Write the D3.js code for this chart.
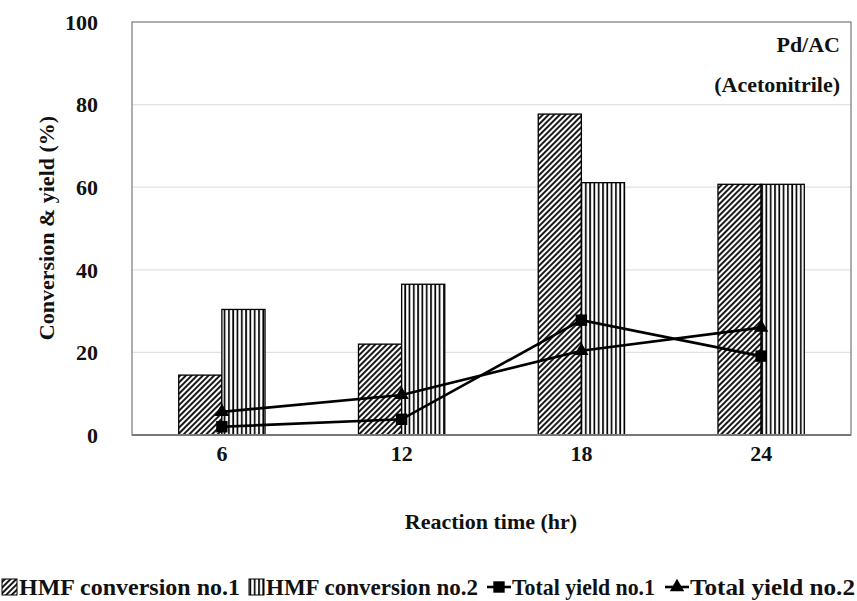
<!DOCTYPE html>
<html>
<head>
<meta charset="utf-8">
<script src="https://cdn.jsdelivr.net/npm/d3@7"></script>
<style>
  html, body { margin: 0; padding: 0; background: #fff; }
  svg { display: block; }
  text { font-family: "Liberation Serif", "Times New Roman", serif; font-weight: bold; fill: #111; }
</style>
</head>
<body>
<svg id="chart" width="857" height="601"></svg>
<script>
// Reaction time categories (hr)
const times = ["6", "12", "18", "24"];
// HMF conversion (%)
const conversion1 = [14.5, 22.0, 77.7, 60.7];
const conversion2 = [30.4, 36.5, 61.1, 60.7];
// Total yield (%)
const yield1 = [2.0, 3.8, 27.8, 19.1];
const yield2 = [5.6, 9.7, 20.4, 26.0];
const yTicks = [0, 20, 40, 60, 80, 100];

const svg = d3.select("#chart");
const margin = { left: 132, right: 6, top: 22, bottom: 166 };
const W = 857, H = 601;
const x0 = margin.left, x1 = W - margin.right;
const yTop = margin.top, yBot = H - margin.bottom;

const x = d3.scaleBand().domain(times).range([x0, x1]).padding(0);
const y = d3.scaleLinear().domain([0, 100]).range([yBot, yTop]);
const barW = x.bandwidth() * 0.24;

// Fill patterns
const defs = svg.append("defs");
const diag = defs.append("pattern")
  .attr("id", "diag").attr("patternUnits", "userSpaceOnUse")
  .attr("width", 4).attr("height", 4)
  .attr("patternTransform", "rotate(45)");
diag.append("rect").attr("width", 4).attr("height", 4).attr("fill", "#fff");
diag.append("line").attr("x1", 1).attr("y1", 0).attr("x2", 1).attr("y2", 4)
  .attr("stroke", "#000").attr("stroke-width", 1.8);

const vert = defs.append("pattern")
  .attr("id", "vert").attr("patternUnits", "userSpaceOnUse")
  .attr("width", 4.3).attr("height", 10);
vert.append("rect").attr("width", 4.3).attr("height", 10).attr("fill", "#fff");
vert.append("line").attr("x1", 1).attr("y1", 0).attr("x2", 1).attr("y2", 10)
  .attr("stroke", "#000").attr("stroke-width", 1.7);

// Gridlines
svg.append("g").selectAll("line")
  .data(yTicks.filter(d => d > 0 && d < 100))
  .join("line")
  .attr("x1", x0).attr("x2", x1)
  .attr("y1", d => y(d)).attr("y2", d => y(d))
  .attr("stroke", "#e2e2e2").attr("stroke-width", 1.2);

// Plot frame
svg.append("rect")
  .attr("x", x0).attr("y", yTop).attr("width", x1 - x0).attr("height", yBot - yTop)
  .attr("fill", "none").attr("stroke", "#777").attr("stroke-width", 1.2);

// Bars
const bars = svg.append("g");
bars.selectAll("rect.c1").data(times).join("rect").attr("class", "c1")
  .attr("x", d => x(d) + x.bandwidth() / 2 - barW)
  .attr("y", (d, i) => y(conversion1[i]))
  .attr("width", barW)
  .attr("height", (d, i) => y(0) - y(conversion1[i]))
  .attr("fill", "url(#diag)").attr("stroke", "#000").attr("stroke-width", 1.3);
bars.selectAll("rect.c2").data(times).join("rect").attr("class", "c2")
  .attr("x", d => x(d) + x.bandwidth() / 2)
  .attr("y", (d, i) => y(conversion2[i]))
  .attr("width", barW)
  .attr("height", (d, i) => y(0) - y(conversion2[i]))
  .attr("fill", "url(#vert)").attr("stroke", "#000").attr("stroke-width", 1.3);

// X axis baseline
svg.append("line").attr("x1", x0).attr("x2", x1).attr("y1", yBot).attr("y2", yBot)
  .attr("stroke", "#777").attr("stroke-width", 1.8);

// Yield lines
const cx = d => x(d) + x.bandwidth() / 2;
const line = d3.line().x(d => cx(d[0])).y(d => y(d[1]));
const s1 = times.map((t, i) => [t, yield1[i]]);
const s2 = times.map((t, i) => [t, yield2[i]]);
svg.append("path").datum(s1).attr("d", line)
  .attr("fill", "none").attr("stroke", "#000").attr("stroke-width", 2.6);
svg.append("path").datum(s2).attr("d", line)
  .attr("fill", "none").attr("stroke", "#000").attr("stroke-width", 2.6);

const sq = d3.symbol().type(d3.symbolSquare).size(130);
const tri = d3.symbol().type(d3.symbolTriangle).size(90);
svg.append("g").selectAll("path").data(s1).join("path")
  .attr("d", sq).attr("transform", d => `translate(${cx(d[0])},${y(d[1])})`).attr("fill", "#000");
svg.append("g").selectAll("path").data(s2).join("path")
  .attr("d", tri).attr("transform", d => `translate(${cx(d[0])},${y(d[1])})`).attr("fill", "#000");

// Y tick labels
svg.append("g").selectAll("text").data(yTicks).join("text")
  .attr("x", 98).attr("y", d => y(d)).attr("dy", "0.35em")
  .attr("text-anchor", "end").attr("font-size", 22).text(d => d);

// X tick labels
svg.append("g").selectAll("text").data(times).join("text")
  .attr("x", d => cx(d)).attr("y", 461)
  .attr("text-anchor", "middle").attr("font-size", 22).text(d => d);

// Axis titles
svg.append("text").attr("transform", "translate(54,228) rotate(-90)")
  .attr("text-anchor", "middle").attr("font-size", 22).text("Conversion & yield (%)");
svg.append("text").attr("x", 491).attr("y", 529)
  .attr("text-anchor", "middle").attr("font-size", 22).text("Reaction time (hr)");

// Annotations
svg.append("text").attr("x", 840).attr("y", 52).attr("text-anchor", "end")
  .attr("font-size", 22).text("Pd/AC");
svg.append("text").attr("x", 840).attr("y", 92).attr("text-anchor", "end")
  .attr("font-size", 22).text("(Acetonitrile)");

// Legend
const leg = svg.append("g").attr("font-size", 23);
const ly = 587;
const legText = (x, w, t) => leg.append("text").attr("x", x).attr("y", ly + 8)
  .attr("textLength", w).attr("lengthAdjust", "spacingAndGlyphs").text(t);
leg.append("rect").attr("x", 2).attr("y", ly - 8).attr("width", 15).attr("height", 16)
  .attr("fill", "url(#diag)").attr("stroke", "#000").attr("stroke-width", 1);
legText(19, 221, "HMF conversion no.1");
leg.append("rect").attr("x", 249).attr("y", ly - 8).attr("width", 15).attr("height", 16)
  .attr("fill", "url(#vert)").attr("stroke", "#000").attr("stroke-width", 1);
legText(266, 212, "HMF conversion no.2");
leg.append("line").attr("x1", 487).attr("x2", 511).attr("y1", ly).attr("y2", ly)
  .attr("stroke", "#000").attr("stroke-width", 2.6);
leg.append("path").attr("d", sq).attr("transform", `translate(499,${ly})`).attr("fill", "#000");
legText(512, 143, "Total yield no.1");
leg.append("line").attr("x1", 665).attr("x2", 689).attr("y1", ly).attr("y2", ly)
  .attr("stroke", "#000").attr("stroke-width", 2.6);
leg.append("path").attr("d", tri).attr("transform", `translate(677,${ly})`).attr("fill", "#000");
legText(690, 165, "Total yield no.2");
</script>
</body>
</html>
